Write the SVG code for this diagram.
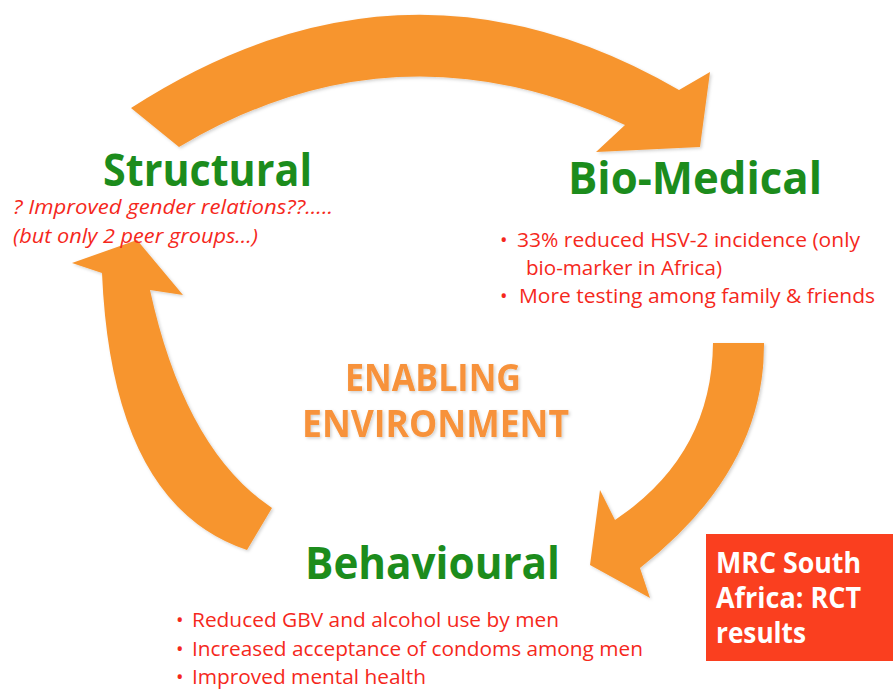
<svg xmlns="http://www.w3.org/2000/svg" width="893" height="689" viewBox="0 0 893 689">
  <style>
    .arrow { fill: #f7952f; }
    .title { font-family: "Open Sans", "Liberation Sans", sans-serif; font-weight: bold; fill: #1c8c1c; font-size: 44px; }
    .note { font-family: "Open Sans", "Liberation Sans", sans-serif; fill: #f5281c; font-size: 20px; }
    .center { font-family: "Open Sans", "Liberation Sans", sans-serif; font-weight: bold; fill: #f7923a; font-size: 38px; }
    .box-text { font-family: "Open Sans", "Liberation Sans", sans-serif; font-weight: bold; fill: #ffffff; font-size: 28px; }
  </style>
  <defs>
    <filter id="soft" x="-10%" y="-10%" width="120%" height="120%">
      <feDropShadow dx="1.5" dy="1.5" stdDeviation="1.5" flood-color="#000" flood-opacity="0.18"/>
    </filter>
  </defs>
  <rect width="893" height="689" fill="#ffffff"/>

  <!-- cycle arrows -->
  <g id="connectors" filter="url(#soft)">
    <!-- Structural to Bio-Medical -->
    <path class="arrow" d="M131,108 Q405,-69 679,90 L710,72 L700,147 L596,152 L625,125 Q396,18 179,147 Z"/>
    <!-- Bio-Medical to Behavioural -->
    <path class="arrow" d="M713,343 Q712,455 615,520 L600,490 L590,565 L650,598 L640,568 Q765,470 764,343 Z"/>
    <!-- Behavioural to Structural -->
    <path class="arrow" d="M247,550 Q112,505 102,273 L72,263 L137,240 L183,295 L150,290 Q185,450 272,508 Z"/>
  </g>

  <g id="structural">
    <text class="title" x="103" y="186" textLength="209" lengthAdjust="spacingAndGlyphs">Structural</text>
    <text class="note" x="13" y="214" font-style="italic" textLength="320" lengthAdjust="spacingAndGlyphs">? Improved gender relations??.....</text>
    <text class="note" x="13" y="243" font-style="italic" textLength="245" lengthAdjust="spacingAndGlyphs">(but only 2 peer groups…)</text>
  </g>

  <g id="bio-medical">
    <text class="title" x="568" y="194" textLength="254" lengthAdjust="spacingAndGlyphs">Bio-Medical</text>
    <text class="note" x="500" y="247">•</text>
    <text class="note" x="517" y="247" textLength="343" lengthAdjust="spacingAndGlyphs">33% reduced HSV-2 incidence (only</text>
    <text class="note" x="526" y="275" textLength="196" lengthAdjust="spacingAndGlyphs">bio-marker in Africa)</text>
    <text class="note" x="500" y="303">•</text>
    <text class="note" x="519" y="303" textLength="356" lengthAdjust="spacingAndGlyphs">More testing among family &amp; friends</text>
  </g>

  <g id="behavioural">
    <text class="title" x="305" y="579" textLength="255" lengthAdjust="spacingAndGlyphs">Behavioural</text>
    <text class="note" x="176" y="627">•</text>
    <text class="note" x="192" y="627" textLength="367" lengthAdjust="spacingAndGlyphs">Reduced GBV and alcohol use by men</text>
    <text class="note" x="176" y="656">•</text>
    <text class="note" x="192" y="656" textLength="451" lengthAdjust="spacingAndGlyphs">Increased acceptance of condoms among men</text>
    <text class="note" x="176" y="684">•</text>
    <text class="note" x="192" y="684" textLength="234" lengthAdjust="spacingAndGlyphs">Improved mental health</text>
  </g>

  <g id="enabling-environment" filter="url(#soft)">
    <text class="center" x="345" y="391" textLength="176" lengthAdjust="spacingAndGlyphs">ENABLING</text>
    <text class="center" x="302" y="437" textLength="267" lengthAdjust="spacingAndGlyphs">ENVIRONMENT</text>
  </g>

  <g id="mrc-box">
    <rect x="706" y="534" width="187" height="127" fill="#fa3f1f"/>
    <text class="box-text" x="716" y="573" textLength="145" lengthAdjust="spacingAndGlyphs">MRC South</text>
    <text class="box-text" x="716" y="608" textLength="145" lengthAdjust="spacingAndGlyphs">Africa: RCT</text>
    <text class="box-text" x="716" y="643" textLength="90" lengthAdjust="spacingAndGlyphs">results</text>
  </g>
</svg>
